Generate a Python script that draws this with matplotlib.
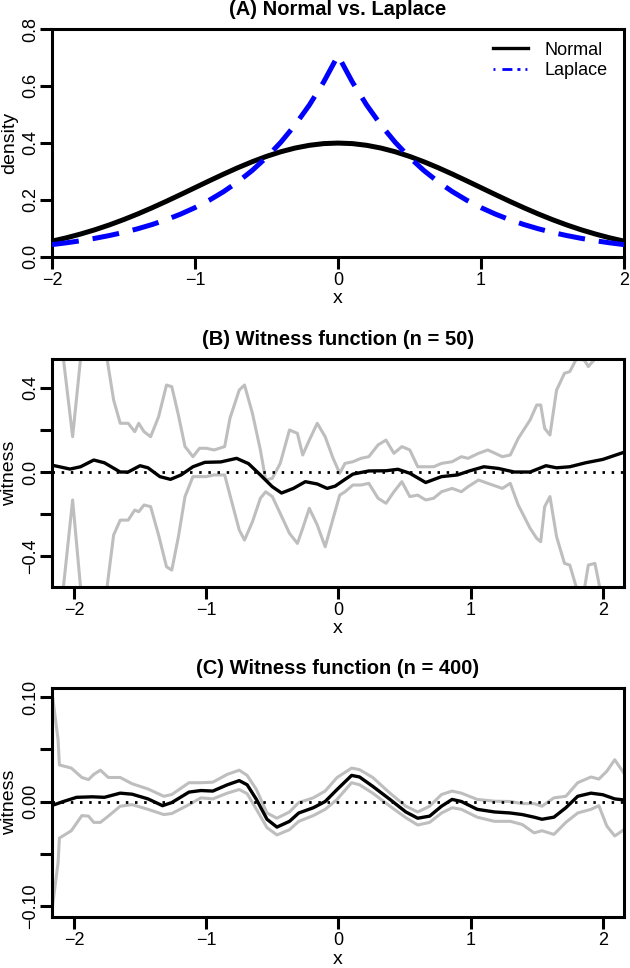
import matplotlib
matplotlib.use("Agg")
import matplotlib.pyplot as plt
from matplotlib.lines import Line2D

plt.rcParams['font.family'] = ['Liberation Sans', 'DejaVu Sans']

# ---------------- Panel A data ----------------
xa = [-2.0, -1.9, -1.8, -1.7, -1.6, -1.5, -1.4, -1.3, -1.2, -1.1, -1.0,
      -0.9, -0.8, -0.7, -0.6, -0.5, -0.4, -0.3, -0.2, -0.1, 0.0,
      0.1, 0.2, 0.3, 0.4, 0.5, 0.6, 0.7, 0.8, 0.9, 1.0,
      1.1, 1.2, 1.3, 1.4, 1.5, 1.6, 1.7, 1.8, 1.9, 2.0]
normal_d = [0.054, 0.0656, 0.079, 0.094, 0.1109, 0.1295, 0.1497, 0.1714, 0.1942, 0.2179, 0.242,
            0.2661, 0.2897, 0.3123, 0.3332, 0.3521, 0.3683, 0.3814, 0.391, 0.397, 0.3989,
            0.397, 0.391, 0.3814, 0.3683, 0.3521, 0.3332, 0.3123, 0.2897, 0.2661, 0.242,
            0.2179, 0.1942, 0.1714, 0.1497, 0.1295, 0.1109, 0.094, 0.079, 0.0656, 0.054]
laplace_d = [0.0418, 0.0481, 0.0554, 0.0639, 0.0736, 0.0847, 0.0976, 0.1124, 0.1295, 0.1492, 0.1719,
             0.198, 0.2281, 0.2627, 0.3026, 0.3486, 0.4016, 0.4626, 0.5329, 0.6138, 0.7071,
             0.6138, 0.5329, 0.4626, 0.4016, 0.3486, 0.3026, 0.2627, 0.2281, 0.198, 0.1719,
             0.1492, 0.1295, 0.1124, 0.0976, 0.0847, 0.0736, 0.0639, 0.0554, 0.0481, 0.0418]

# ---------------- Panel B data (n = 50) ----------------
xb_band = [-2.17, -2.08, -2.01, -1.95, -1.85, -1.75, -1.70, -1.65, -1.59, -1.54, -1.51, -1.47,
           -1.42, -1.36, -1.30, -1.26, -1.21, -1.16, -1.10, -1.05, -1.00, -0.94, -0.86, -0.82,
           -0.75, -0.71, -0.65, -0.59, -0.55, -0.50, -0.44, -0.37, -0.31, -0.27, -0.22, -0.16,
           -0.10, -0.04, 0.01, 0.05, 0.11, 0.17, 0.23, 0.30, 0.36, 0.42, 0.48, 0.54, 0.60,
           0.66, 0.72, 0.78, 0.86, 0.93, 0.98, 1.06, 1.13, 1.24, 1.30, 1.36, 1.45, 1.50, 1.53,
           1.56, 1.60, 1.65, 1.71, 1.75, 1.80, 1.86, 1.89, 1.94, 1.98, 2.16]
b_upper = [0.80, 0.54, 0.168, 0.54, 0.75, 0.54, 0.343, 0.232, 0.232, 0.192, 0.232, 0.192,
           0.168, 0.263, 0.414, 0.406, 0.271, 0.121, 0.073, 0.113, 0.113, 0.105, 0.121, 0.256,
           0.390, 0.414, 0.279, 0.105, -0.038, -0.030, 0.041, 0.200, 0.184, 0.081, 0.152, 0.232,
           0.168, 0.065, -0.006, 0.041, 0.049, 0.065, 0.073, 0.129, 0.152, 0.089, 0.121, 0.105, 0.025,
           0.025, 0.025, 0.041, 0.049, 0.073, 0.065, 0.089, 0.105, 0.073, 0.081, 0.160, 0.248, 0.319, 0.319,
           0.208, 0.176, 0.390, 0.470, 0.478, 0.538, 0.533, 0.502, 0.538, 0.62, 0.80]
b_lower = [-0.80, -0.55, -0.133, -0.55, -0.75, -0.55, -0.300, -0.229, -0.229, -0.181, -0.189, -0.157,
           -0.165, -0.300, -0.451, -0.467, -0.308, -0.117, -0.022, -0.022, -0.022, -0.014, -0.014, -0.110,
           -0.276, -0.324, -0.237, -0.125, -0.094, -0.117, -0.197, -0.292, -0.340, -0.268, -0.173, -0.252,
           -0.356, -0.221, -0.110, -0.094, -0.062, -0.062, -0.054, -0.125, -0.149, -0.094, -0.046, -0.117, -0.110,
           -0.133, -0.125, -0.094, -0.078, -0.094, -0.070, -0.038, -0.054, -0.078, -0.054, -0.157, -0.268, -0.316, -0.332,
           -0.165, -0.117, -0.308, -0.435, -0.443, -0.55, -0.56, -0.443, -0.435, -0.56, -0.80]
xb_wit = [-2.17, -2.11, -2.03, -1.95, -1.85, -1.77, -1.65, -1.59, -1.50, -1.44, -1.35, -1.27,
          -1.19, -1.10, -1.01, -0.89, -0.77, -0.68, -0.59, -0.50, -0.43, -0.34, -0.25, -0.16,
          -0.085, -0.024, 0.05, 0.11, 0.23, 0.36, 0.45, 0.54, 0.66, 0.78, 0.90, 0.99, 1.10,
          1.21, 1.33, 1.45, 1.57, 1.65, 1.75, 1.87, 2.00, 2.16]
b_witness = [0.033, 0.025, 0.014, 0.025, 0.057, 0.044, 0.0, 0.0, 0.030, 0.020, -0.022, -0.035,
             -0.014, 0.025, 0.046, 0.048, 0.065, 0.040, -0.014, -0.070, -0.100, -0.078, -0.046, -0.057,
             -0.078, -0.067, -0.035, -0.010, 0.005, 0.006, 0.013, -0.006, -0.050, -0.022, -0.014, 0.005, 0.025,
             0.017, 0.0, 0.0, 0.030, 0.020, 0.025, 0.044, 0.060, 0.094]

# ---------------- Panel C data (n = 400) ----------------
xc_band = [-2.17, -2.12, -2.11, -2.02, -1.94, -1.89, -1.85, -1.80, -1.74, -1.65, -1.56, -1.44,
           -1.32, -1.26, -1.13, -1.04, -0.95, -0.84, -0.75, -0.69, -0.62, -0.54, -0.465, -0.37,
           -0.30, -0.19, -0.10, -0.01, 0.10, 0.16, 0.26, 0.39, 0.51, 0.60, 0.69, 0.78, 0.86,
           0.93, 1.05, 1.18, 1.30, 1.39, 1.48, 1.54, 1.63, 1.72, 1.81, 1.91, 1.97, 2.03, 2.09, 2.16]
c_upper = [0.109, 0.059, 0.035, 0.032, 0.023, 0.021, 0.026, 0.030, 0.023, 0.023, 0.017, 0.012,
           0.005, 0.0067, 0.018, 0.018, 0.0185, 0.026, 0.030, 0.025, 0.0115, -0.011, -0.016, -0.010,
           -0.001, 0.0035, 0.010, 0.023, 0.032, 0.0305, 0.023, 0.008, -0.0045, -0.010, -0.0045, 0.0067, 0.010,
           0.008, 0.002, 0.0003, 0.0, -0.002, -0.002, -0.0045, 0.0035, 0.005, 0.018, 0.0235, 0.0215, 0.029, 0.040, 0.027]
c_lower = [-0.108, -0.0585, -0.035, -0.028, -0.0135, -0.014, -0.020, -0.020, -0.014, -0.0045, -0.003, -0.0075,
           -0.0125, -0.0115, -0.003, 0.0035, 0.0025, 0.008, 0.0115, 0.0075, -0.0075, -0.025, -0.032, -0.027,
           -0.019, -0.0135, -0.0075, 0.002, 0.018, 0.016, 0.008, -0.0045, -0.0155, -0.0225, -0.020, -0.011, -0.006,
           -0.0075, -0.015, -0.019, -0.019, -0.022, -0.030, -0.028, -0.0315, -0.020, -0.011, -0.0075, -0.004, -0.0235, -0.033, -0.027]
xc_wit = [-2.17, -2.08, -1.98, -1.86, -1.77, -1.65, -1.56, -1.44, -1.33, -1.26, -1.13, -1.04,
          -0.95, -0.84, -0.75, -0.69, -0.62, -0.54, -0.465, -0.37, -0.30, -0.19, -0.10, -0.01,
          0.10, 0.16, 0.26, 0.39, 0.51, 0.60, 0.69, 0.78, 0.86, 0.93, 1.05, 1.18, 1.30, 1.39,
          1.48, 1.54, 1.63, 1.72, 1.81, 1.91, 2.00, 2.09, 2.16]
c_witness = [-0.004, 0.0, 0.004, 0.0045, 0.004, 0.008, 0.007, 0.0025, -0.004, -0.001, 0.009, 0.0105,
             0.010, 0.016, 0.020, 0.016, 0.002, -0.017, -0.0245, -0.019, -0.011, -0.006, 0.0, 0.0115,
             0.025, 0.0235, 0.0145, 0.002, -0.010, -0.016, -0.014, -0.0045, 0.002, 0.0, -0.0075, -0.010, -0.011, -0.0125,
             -0.015, -0.017, -0.015, -0.006, 0.005, 0.008, 0.0065, 0.0025, 0.0015]

# ---------------- Figure ----------------
W, H = 630, 968
fig = plt.figure(figsize=(W / 100, H / 100), dpi=100)

def axes_px(left, top, right, bottom):
    return fig.add_axes([left / W, 1 - bottom / H, (right - left) / W, (bottom - top) / H])

axA = axes_px(52, 29, 624, 256.5)
axB = axes_px(52, 359, 624, 586.7)
axC = axes_px(52, 688, 624, 917)

TICK_FS = 13
LAB_FS = 14
TITLE_FS = 14.5
GREY = '#bebebe'

def style(ax, title, ylabel):
    for s in ax.spines.values():
        s.set_linewidth(2.2)
    ax.tick_params(axis='both', direction='out', length=8.5, width=2.2,
                   labelsize=TICK_FS, top=False, right=False)
    ax.tick_params(axis='x', pad=2.5)
    ax.tick_params(axis='y', pad=1.0)
    for lab in ax.get_yticklabels():
        lab.set_rotation(90)
        lab.set_va('center')
        lab.set_ha('right')
    ax.set_xlabel('x', fontsize=LAB_FS, labelpad=1.0)
    ax.set_ylabel(ylabel, fontsize=LAB_FS, labelpad=3)
    ax.set_title(title, fontsize=TITLE_FS, fontweight='bold', pad=10)

# Panel A
axA.plot(xa, normal_d, color='black', lw=3.6, solid_capstyle='butt', zorder=3)
axA.plot(xa, laplace_d, color='#0000ff', lw=3.6, dashes=(5.4, 2.8), zorder=3)
axA.set_xlim(-2, 2)
axA.set_ylim(0, 0.8)
axA.set_xticks([-2, -1, 0, 1, 2])
axA.set_yticks([0.0, 0.2, 0.4, 0.6, 0.8])
axA.set_yticklabels(['0.0', '0.2', '0.4', '0.6', '0.8'])
style(axA, '(A) Normal vs. Laplace', 'density')
handles = [Line2D([], [], color='black', lw=2.4),
           Line2D([], [], color='#0000ff', lw=2.0, dashes=(0.7, 2.5, 3.6, 1.8, 1.1, 1.8, 0.7, 6))]
axA.legend(handles, ['Normal', 'Laplace'], loc='upper left', bbox_to_anchor=(0.771, 0.945),
           frameon=False, fontsize=TICK_FS, handlelength=1.95, handletextpad=0.9,
           labelspacing=0.2, borderpad=0, borderaxespad=0)

# Panel B
axB.plot(xb_band, b_upper, color=GREY, lw=2.2, zorder=2)
axB.plot(xb_band, b_lower, color=GREY, lw=2.2, zorder=2)
axB.axhline(0, color='black', lw=2.0, dashes=(0.9, 2.4), zorder=3)
axB.plot(xb_wit, b_witness, color='black', lw=2.4, zorder=4)
axB.set_xlim(-2.166, 2.16)
axB.set_ylim(-0.546, 0.538)
axB.set_xticks([-2, -1, 0, 1, 2])
axB.set_yticks([-0.4, -0.2, 0.0, 0.2, 0.4])
axB.set_yticklabels(['\u22120.4', '', '0.0', '', '0.4'])
style(axB, '(B) Witness function (n = 50)', 'witness')

# Panel C
axC.plot(xc_band, c_upper, color=GREY, lw=2.2, zorder=2)
axC.plot(xc_band, c_lower, color=GREY, lw=2.2, zorder=2)
axC.axhline(0, color='black', lw=2.0, dashes=(0.9, 2.4), zorder=3)
axC.plot(xc_wit, c_witness, color='black', lw=2.4, zorder=4)
axC.set_xlim(-2.166, 2.16)
axC.set_ylim(-0.1106, 0.1087)
axC.set_xticks([-2, -1, 0, 1, 2])
axC.set_yticks([-0.10, -0.05, 0.0, 0.05, 0.10])
axC.set_yticklabels(['\u22120.10', '', '0.00', '', '0.10'])
style(axC, '(C) Witness function (n = 400)', 'witness')

fig.savefig('out.png', dpi=100)
